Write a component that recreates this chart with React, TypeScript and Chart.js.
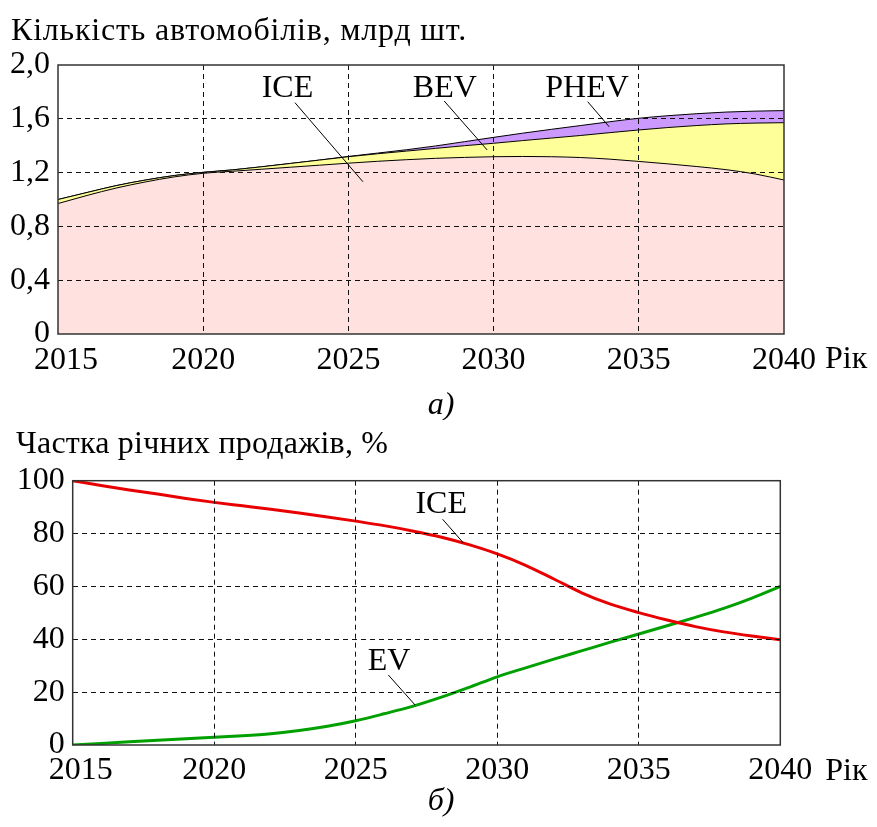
import { useEffect, useRef } from 'react';
import { Chart, registerables } from 'chart.js';
Chart.register(...registerables);

const YEARS = [2015, 2016, 2017, 2018, 2019, 2020, 2021, 2022, 2023, 2024, 2025, 2026, 2027, 2028, 2029, 2030, 2031, 2032, 2033, 2034, 2035, 2036, 2037, 2038, 2039, 2040];

// a) vehicle stock, bn units (stacked)
const STOCK_ICE = [0.97, 1.03, 1.085, 1.13, 1.168, 1.195, 1.21, 1.225, 1.24, 1.255, 1.27, 1.284, 1.296, 1.306, 1.313, 1.318, 1.32, 1.318, 1.312, 1.3, 1.283, 1.265, 1.245, 1.222, 1.19, 1.145];
const STOCK_BEV = [0.03, 0.022, 0.018, 0.014, 0.01, 0.007, 0.01, 0.018, 0.028, 0.038, 0.048, 0.056, 0.064, 0.074, 0.087, 0.1, 0.118, 0.139, 0.164, 0.197, 0.234, 0.27, 0.305, 0.34, 0.378, 0.426];
const STOCK_PHEV = [0, 0, 0, 0, 0, 0, 0, 0, 0, 0, 0.002, 0.005, 0.01, 0.018, 0.03, 0.044, 0.055, 0.065, 0.074, 0.081, 0.087, 0.088, 0.088, 0.088, 0.089, 0.09];

// b) share of annual sales, %
const SALES_ICE = [100, 98.2, 96.5, 95, 93.3, 91.8, 90.5, 89.2, 87.8, 86.3, 84.7, 83, 81, 78.7, 75.8, 72.3, 68, 62.8, 57.5, 53.3, 50.1, 47.3, 44.8, 42.8, 41.2, 39.8];
const SALES_EV = [0, 0.6, 1.2, 1.8, 2.4, 2.9, 3.5, 4.3, 5.5, 7.1, 9.2, 11.8, 14.6, 18, 21.8, 25.8, 29.2, 32.5, 35.7, 38.9, 42, 45.1, 48.3, 51.7, 55.6, 60];

const X_TICKS = [2015, 2020, 2025, 2030, 2035, 2040];
const X_TICK_LABELS = ['  2015', '2020', '2025', '2030', '2035', '2040'];
const STOCK_Y_TICKS = [0, 0.4, 0.8, 1.2, 1.6, 2.0];
const STOCK_Y_LABELS = ['0', '0,4', '0,8', '1,2', '1,6', '2,0'];
const SALES_Y_TICKS = [0, 20, 40, 60, 80, 100];
const SALES_Y_LABELS = ['0', '20', '40', '60', '80', '100'];

const STOCK_TITLE = 'Кількість автомобілів, млрд шт.';
const SALES_TITLE = 'Частка річних продажів, %';
const X_UNIT = 'Рік';
const CAPTION_A = 'а)';
const CAPTION_B = 'б)';

// callouts: label, label anchor (x, y), leader line from -> to (data coords)
const STOCK_NOTE_LABELS = ['ICE', 'BEV', 'PHEV'];
const STOCK_NOTE_AT = [[2022.9, 1.764], [2028.32, 1.764], [2033.22, 1.764]];
const STOCK_NOTE_LINES = [[2023.16, 1.72, 2025.5, 1.132], [2028.3, 1.732, 2029.78, 1.368], [2033.24, 1.727, 2033.98, 1.541]];
const SALES_NOTE_LABELS = ['ICE', 'EV'];
const SALES_NOTE_AT = [[2028.02, 87.7], [2026.18, 28.4]];
const SALES_NOTE_LINES = [[2028.07, 85.4, 2028.8, 76.5], [2026.15, 26.5, 2027.1, 15.1]];

const FONT = '"Liberation Serif", "Times New Roman", Times, serif';
const SIZE = 32;

function edgeTransparent(ctx: any) {
  const n = ctx.scale.ticks.length;
  return ctx.index === 0 || ctx.index === n - 1 ? 'rgba(0,0,0,0)' : '#111';
}

function makeDecor(cfg: any) {
  return {
    id: 'decor',
    afterDraw(chart: any) {
      const { ctx, chartArea: a } = chart;
      const xs = chart.scales.x;
      const ys = chart.scales.y;
      ctx.save();
      ctx.strokeStyle = '#333';
      ctx.lineWidth = 1.5;
      ctx.strokeRect(a.left, a.top, a.right - a.left, a.bottom - a.top);
      ctx.fillStyle = '#000';
      ctx.font = `${SIZE}px ${FONT}`;
      ctx.textBaseline = 'alphabetic';
      ctx.textAlign = 'left';
      if ('letterSpacing' in ctx) ctx.letterSpacing = cfg.titleSpacing;
      ctx.fillText(cfg.title, cfg.titleX, cfg.titleY);
      if ('letterSpacing' in ctx) ctx.letterSpacing = '0px';
      ctx.fillText(X_UNIT, a.right + cfg.unitDx, a.bottom + cfg.unitDy);
      ctx.textAlign = 'center';
      cfg.labels.forEach((t: string, i: number) => {
        const [lx, ly] = cfg.at[i];
        ctx.fillText(t, xs.getPixelForValue(lx), ys.getPixelForValue(ly));
        const [x1, y1, x2, y2] = cfg.lines[i];
        ctx.beginPath();
        ctx.strokeStyle = '#000';
        ctx.lineWidth = 1;
        ctx.moveTo(xs.getPixelForValue(x1), ys.getPixelForValue(y1));
        ctx.lineTo(xs.getPixelForValue(x2), ys.getPixelForValue(y2));
        ctx.stroke();
      });
      ctx.font = `italic ${SIZE}px ${FONT}`;
      ctx.fillText(cfg.caption, cfg.capX, cfg.capY);
      ctx.restore();
    },
  };
}

function axes(yTicks: number[], yLabels: string[], yWidth: number, stacked: boolean, xPad: number) {
  return {
    x: {
      type: 'linear',
      min: X_TICKS[0],
      max: X_TICKS[X_TICKS.length - 1],
      afterBuildTicks: (s: any) => { s.ticks = X_TICKS.map((v) => ({ value: v })); },
      afterFit: (s: any) => { s.height = 40; },
      ticks: {
        callback: (_v: any, i: number) => X_TICK_LABELS[i],
        font: { family: FONT, size: SIZE },
        color: '#000',
        padding: xPad,
        maxRotation: 0,
        autoSkip: false,
      },
      grid: { color: edgeTransparent, lineWidth: 1, drawTicks: false, z: 1 },
      border: { display: false, dash: [5, 4] },
    },
    y: {
      type: 'linear',
      stacked,
      min: yTicks[0],
      max: yTicks[yTicks.length - 1],
      afterBuildTicks: (s: any) => { s.ticks = yTicks.map((v) => ({ value: v })); },
      afterFit: (s: any) => { s.width = yWidth; },
      ticks: {
        callback: (_v: any, i: number) => yLabels[i],
        font: { family: FONT, size: SIZE },
        color: '#000',
        padding: 8,
        autoSkip: false,
      },
      grid: { color: edgeTransparent, lineWidth: 1, drawTicks: false, z: 1 },
      border: { display: false, dash: [5, 4] },
    },
  };
}

const pts = (vals: number[]) => YEARS.map((x, i) => ({ x, y: vals[i] }));

export default function App() {
  const topRef = useRef<HTMLCanvasElement>(null);
  const botRef = useRef<HTMLCanvasElement>(null);

  useEffect(() => {
    const common = {
      animation: false,
      responsive: false,
      events: [],
      plugins: { legend: { display: false }, tooltip: { enabled: false }, title: { display: false } },
    };
    const area = (label: string, vals: number[], bg: string, fill: any) => ({
      label,
      data: pts(vals),
      borderColor: '#000',
      borderWidth: 1,
      backgroundColor: bg,
      fill,
      pointRadius: 0,
      cubicInterpolationMode: 'monotone',
    });
    const top = new Chart(topRef.current!, {
      type: 'line',
      data: {
        datasets: [
          area('ICE', STOCK_ICE, '#FFE2DF', 'origin'),
          area('BEV', STOCK_BEV, '#FFFF99', '-1'),
          area('PHEV', STOCK_PHEV, '#CC99FF', '-1'),
        ],
      },
      options: {
        ...common,
        layout: { padding: { left: 0, right: 93, top: 65, bottom: 46 } },
        scales: axes(STOCK_Y_TICKS, STOCK_Y_LABELS, 58, true, 7),
      } as any,
      plugins: [makeDecor({
        title: STOCK_TITLE, titleX: 11, titleY: 39.5, titleSpacing: '0.8px',
        unitDx: 41, unitDy: 34,
        labels: STOCK_NOTE_LABELS, at: STOCK_NOTE_AT, lines: STOCK_NOTE_LINES,
        caption: CAPTION_A, capX: 441, capY: 414,
      })],
    } as any);

    const line = (label: string, vals: number[], color: string) => ({
      label,
      data: pts(vals),
      borderColor: color,
      borderWidth: 3,
      pointRadius: 0,
      fill: false,
      cubicInterpolationMode: 'monotone',
    });
    const bot = new Chart(botRef.current!, {
      type: 'line',
      data: {
        datasets: [
          line('ICE', SALES_ICE, '#E80000'),
          line('EV', SALES_EV, '#00A000'),
        ],
      },
      options: {
        ...common,
        layout: { padding: { left: 0, right: 96.7, top: 60.7, bottom: 42 } },
        scales: axes(SALES_Y_TICKS, SALES_Y_LABELS, 72.7, false, 6),
      } as any,
      plugins: [makeDecor({
        title: SALES_TITLE, titleX: 16, titleY: 32.7, titleSpacing: '0.2px',
        unitDx: 45, unitDy: 35,
        labels: SALES_NOTE_LABELS, at: SALES_NOTE_AT, lines: SALES_NOTE_LINES,
        caption: CAPTION_B, capX: 441, capY: 390,
      })],
    } as any);

    return () => { top.destroy(); bot.destroy(); };
  }, []);

  return (
    <div style={{ position: 'absolute', left: 0, top: 0, width: 877, height: 827, background: '#fff', overflow: 'hidden' }}>
      <canvas ref={topRef} width={877} height={420} style={{ position: 'absolute', left: 0, top: 0 }} />
      <canvas ref={botRef} width={877} height={407} style={{ position: 'absolute', left: 0, top: 420 }} />
    </div>
  );
}
